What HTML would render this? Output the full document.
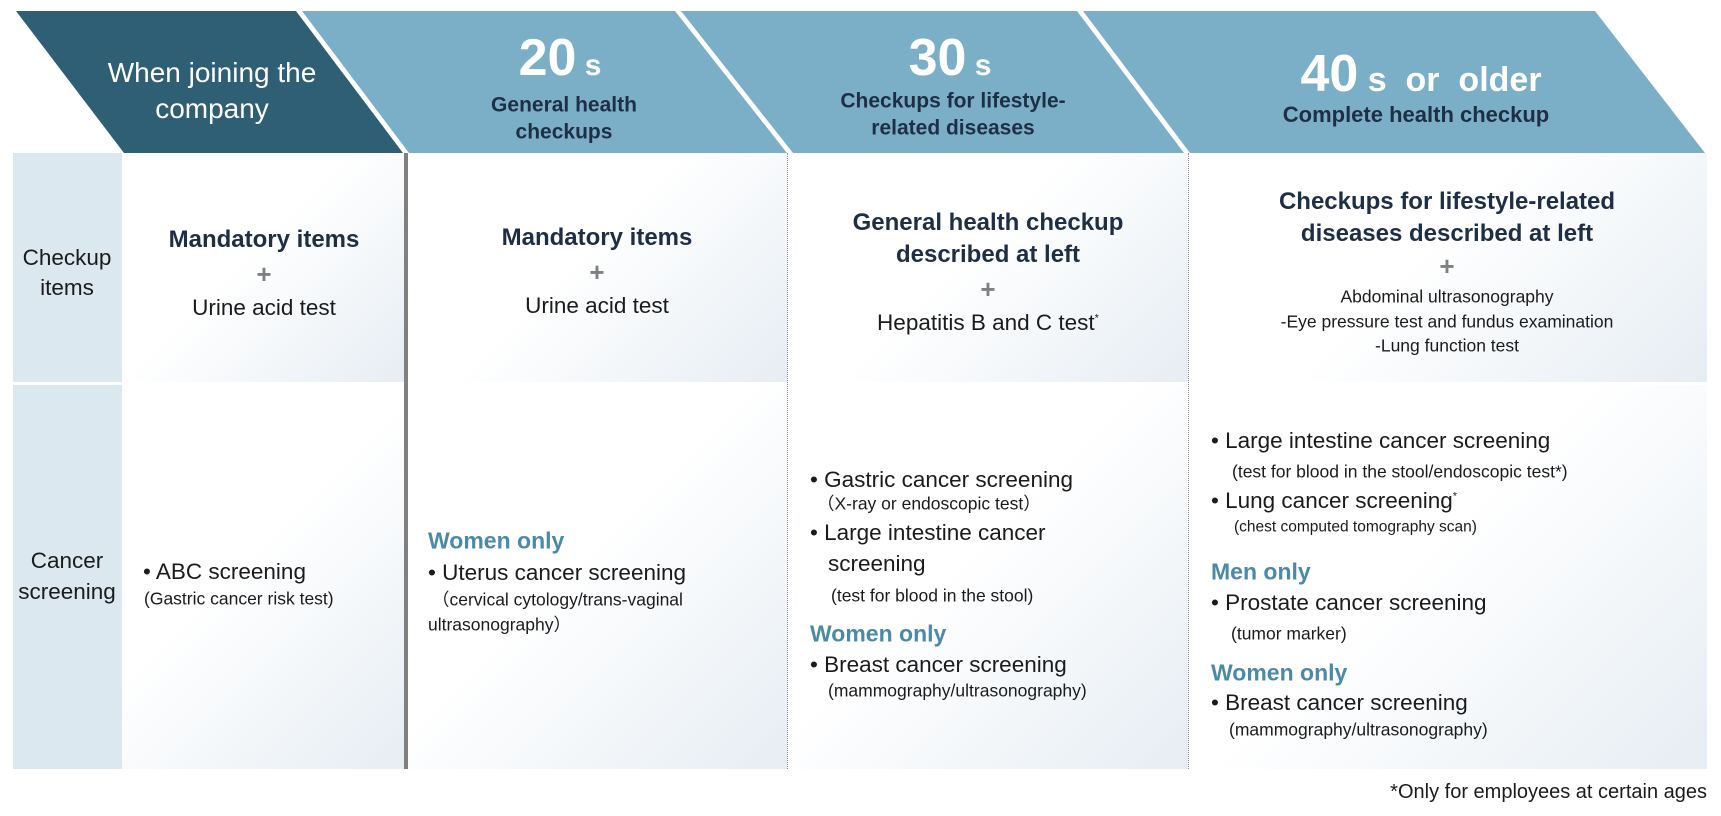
<!DOCTYPE html>
<html><head><meta charset="utf-8"><style>
body{margin:0;width:1721px;height:816px;background:#fff;position:relative;overflow:hidden;font-family:"Liberation Sans",Arial,sans-serif;color:#1b1b1b}
.t{position:absolute;white-space:nowrap;transform:translateY(-50%);line-height:1}
.c{transform:translate(-50%,-50%);text-align:center}
.b{font-weight:bold;color:#1e2f45}
.w{color:#fff}
.g{color:#808080;font-weight:bold;font-size:26px}
.s{font-size:17.5px}
.m{font-size:22.5px}
.h{font-weight:bold;color:#4a8aa8;font-size:23px}
.cell{position:absolute;background:linear-gradient(135deg,#ffffff 0%,#ffffff 45%,#e6edf3 100%)}
.lab{position:absolute;background:#dce8f0}
</style></head><body>
<svg style="position:absolute;left:0;top:0" width="1721" height="160">
<polygon points="16,11 296,11 403,153 124,153" fill="#2e5f75"/>
<polygon points="302,11 675,11 787,153 409,153" fill="#7bafc8"/>
<polygon points="681,11 1077,11 1184,153 793,153" fill="#7bafc8"/>
<polygon points="1083,11 1595,11 1705,153 1190,153" fill="#7bafc8"/>
</svg>
<div class="lab" style="left:13px;top:153px;width:109px;height:229px"></div>
<div class="lab" style="left:13px;top:385px;width:109px;height:384px"></div>
<div class="cell" style="left:122px;top:153px;width:283px;height:229px"></div>
<div class="cell" style="left:408px;top:153px;width:379px;height:229px"></div>
<div class="cell" style="left:788px;top:153px;width:400px;height:229px"></div>
<div class="cell" style="left:1189px;top:153px;width:518px;height:229px"></div>
<div class="cell" style="left:122px;top:385px;width:283px;height:384px"></div>
<div class="cell" style="left:408px;top:385px;width:379px;height:384px"></div>
<div class="cell" style="left:788px;top:385px;width:400px;height:384px"></div>
<div class="cell" style="left:1189px;top:385px;width:518px;height:384px"></div>
<div style="position:absolute;left:404px;top:153px;width:4px;height:616px;background:#808080"></div>
<div style="position:absolute;left:787px;top:153px;height:616px;border-left:1.5px dotted #8a8a8a"></div>
<div style="position:absolute;left:1188px;top:153px;height:616px;border-left:1.5px dotted #8a8a8a"></div>

<div class="t c w" style="left:212px;top:73px;font-size:28px">When joining the</div>
<div class="t c w" style="left:212px;top:109px;font-size:28px">company</div>
<div class="t c w" style="left:560px;top:58px;font-weight:bold;font-size:52px">20<span style="font-size:30px"> s</span></div>
<div class="t c b" style="left:564px;top:105px;font-size:21px">General health</div>
<div class="t c b" style="left:564px;top:132px;font-size:21px">checkups</div>
<div class="t c w" style="left:950px;top:58px;font-weight:bold;font-size:52px">30<span style="font-size:30px"> s</span></div>
<div class="t c b" style="left:953px;top:101px;font-size:21px">Checkups for lifestyle-</div>
<div class="t c b" style="left:953px;top:128px;font-size:21px">related diseases</div>
<div class="t c w" style="left:1421px;top:74px;font-weight:bold;font-size:52px">40<span style="font-size:34px"> s&nbsp; or&nbsp; older</span></div>
<div class="t c b" style="left:1416px;top:115px;font-size:22px">Complete health checkup</div>

<div class="t c" style="left:67px;top:258px;font-size:22.5px">Checkup</div>
<div class="t c" style="left:67px;top:288px;font-size:22.5px">items</div>
<div class="t c" style="left:67px;top:561px;font-size:22.5px">Cancer</div>
<div class="t c" style="left:67px;top:592px;font-size:22.5px">screening</div>

<div class="t c b" style="left:264px;top:240px;font-size:24px">Mandatory items</div>
<div class="t c g" style="left:264px;top:274px">+</div>
<div class="t c m" style="left:264px;top:308px">Urine acid test</div>
<div class="t c b" style="left:597px;top:238px;font-size:24px">Mandatory items</div>
<div class="t c g" style="left:597px;top:272px">+</div>
<div class="t c m" style="left:597px;top:306px">Urine acid test</div>
<div class="t c b" style="left:988px;top:223px;font-size:24px">General health checkup</div>
<div class="t c b" style="left:988px;top:255px;font-size:24px">described at left</div>
<div class="t c g" style="left:988px;top:289px">+</div>
<div class="t c m" style="left:988px;top:323px">Hepatitis B and C test<sup style="font-size:11px">*</sup></div>
<div class="t c b" style="left:1447px;top:202px;font-size:24px">Checkups for lifestyle-related</div>
<div class="t c b" style="left:1447px;top:234px;font-size:24px">diseases described at left</div>
<div class="t c g" style="left:1447px;top:266px">+</div>
<div class="t c s" style="left:1447px;top:297px">Abdominal ultrasonography</div>
<div class="t c s" style="left:1447px;top:322px">-Eye pressure test and fundus examination</div>
<div class="t c s" style="left:1447px;top:346px">-Lung function test</div>

<div class="t m" style="left:143px;top:572px">• ABC screening</div>
<div class="t s" style="left:144px;top:599px">(Gastric cancer risk test)</div>

<div class="t h" style="left:428px;top:541px">Women only</div>
<div class="t m" style="left:428px;top:573px">• Uterus cancer screening</div>
<div class="t s" style="left:432px;top:600px">（cervical cytology/trans-vaginal</div>
<div class="t s" style="left:428px;top:625px">ultrasonography）</div>

<div class="t m" style="left:810px;top:480px">• Gastric cancer screening</div>
<div class="t s" style="left:817px;top:504px">（X-ray or endoscopic test）</div>
<div class="t m" style="left:810px;top:533px">• Large intestine cancer</div>
<div class="t m" style="left:828px;top:564px">screening</div>
<div class="t s" style="left:831px;top:596px">(test for blood in the stool)</div>
<div class="t h" style="left:810px;top:634px">Women only</div>
<div class="t m" style="left:810px;top:665px">• Breast cancer screening</div>
<div class="t s" style="left:828px;top:691px">(mammography/ultrasonography)</div>

<div class="t m" style="left:1211px;top:441px">• Large intestine cancer screening</div>
<div class="t s" style="left:1232px;top:472px">(test for blood in the stool/endoscopic test*)</div>
<div class="t m" style="left:1211px;top:501px">• Lung cancer screening<sup style="font-size:11px">*</sup></div>
<div class="t s" style="left:1234px;top:527px;font-size:15.5px">(chest computed tomography scan)</div>
<div class="t h" style="left:1211px;top:572px">Men only</div>
<div class="t m" style="left:1211px;top:603px">• Prostate cancer screening</div>
<div class="t s" style="left:1231px;top:634px">(tumor marker)</div>
<div class="t h" style="left:1211px;top:673px">Women only</div>
<div class="t m" style="left:1211px;top:703px">• Breast cancer screening</div>
<div class="t s" style="left:1229px;top:730px">(mammography/ultrasonography)</div>

<div class="t" style="right:14px;top:792px;font-size:20px">*Only for employees at certain ages</div>
</body></html>
